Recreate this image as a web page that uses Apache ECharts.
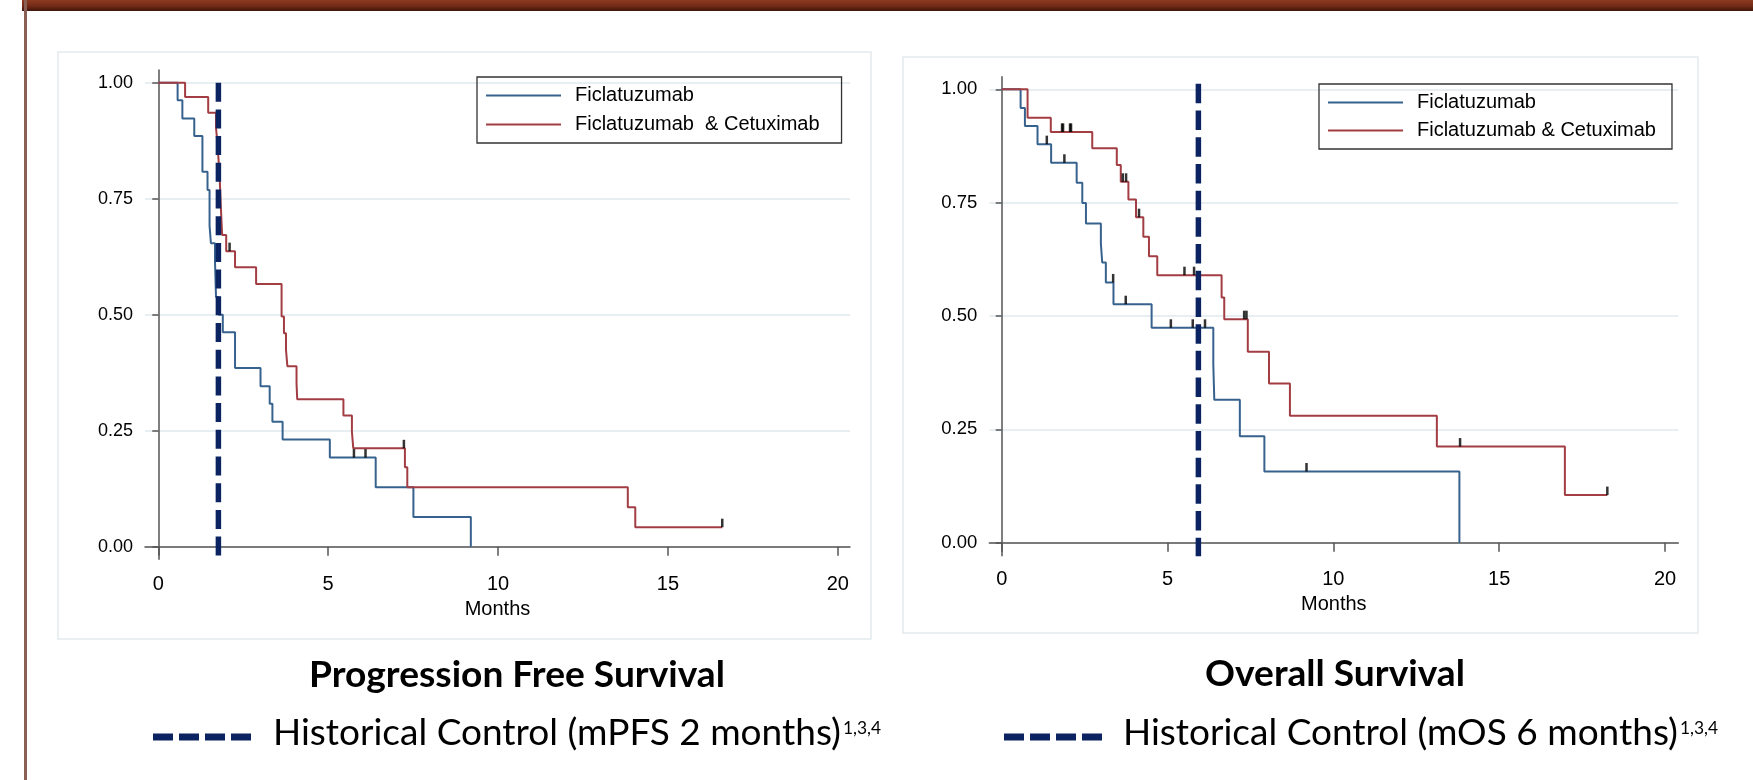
<!DOCTYPE html>
<html><head><meta charset="utf-8">
<script src="https://cdn.jsdelivr.net/npm/echarts@6/dist/echarts.min.js"></script>
<style>html,body{margin:0;padding:0;background:#fff;}#c{width:1753px;height:780px;}</style>
</head><body><div id="c"></div>
<script>
// ---------- Progression Free Survival ----------
const pfsFicT = [0, 0.57, 0.71, 1.06, 1.30, 1.45, 1.51, 1.55, 1.67, 1.70, 1.78, 1.90, 2.26, 3.01, 3.28, 3.36, 3.66, 5.05, 6.40, 7.51, 9.20];
const pfsFicS = [1, 0.962, 0.923, 0.885, 0.808, 0.769, 0.692, 0.654, 0.615, 0.538, 0.500, 0.462, 0.385, 0.346, 0.308, 0.269, 0.231, 0.192, 0.128, 0.064, 0];
const pfsComboT = [0, 0.79, 1.47, 1.70, 1.74, 1.77, 1.80, 1.82, 1.84, 1.88, 2.00, 2.26, 2.88, 3.63, 3.70, 3.76, 3.80, 4.07, 4.09, 5.45, 5.70, 5.74, 7.26, 7.33, 13.82, 14.04, 16.60];
const pfsComboS = [1, 0.969, 0.935, 0.903, 0.871, 0.839, 0.806, 0.774, 0.736, 0.672, 0.637, 0.602, 0.566, 0.496, 0.460, 0.424, 0.389, 0.352, 0.318, 0.283, 0.248, 0.212, 0.171, 0.128, 0.085, 0.042, 0.042];
const pfsFicCensT = [5.76, 6.10];
const pfsFicCensS = [0.192, 0.192];
const pfsComboCensT = [2.10, 7.23, 16.60];
const pfsComboCensS = [0.637, 0.212, 0.042];
const pfsHistControl = 1.77;

// ---------- Overall Survival ----------
const osFicT = [0, 0.57, 0.70, 1.08, 1.49, 2.26, 2.43, 2.54, 2.99, 3.03, 3.14, 3.37, 4.52, 6.38, 6.41, 7.18, 7.92, 13.80];
const osFicS = [1, 0.959, 0.919, 0.879, 0.838, 0.794, 0.749, 0.704, 0.660, 0.618, 0.574, 0.526, 0.474, 0.393, 0.315, 0.235, 0.157, 0];
const osComboT = [0, 0.78, 1.48, 2.73, 3.47, 3.59, 3.82, 4.05, 4.27, 4.44, 4.69, 6.63, 6.71, 7.42, 8.06, 8.69, 13.12, 16.98, 18.26];
const osComboS = [1, 0.937, 0.906, 0.870, 0.833, 0.796, 0.757, 0.718, 0.675, 0.632, 0.590, 0.541, 0.493, 0.421, 0.351, 0.280, 0.212, 0.105, 0.105];
const osFicCensT = [1.36, 1.89, 3.36, 3.74, 5.10, 5.76, 6.13, 9.19];
const osFicCensS = [0.879, 0.838, 0.574, 0.526, 0.474, 0.474, 0.474, 0.157];
const osComboCensT = [1.82, 1.85, 2.06, 2.09, 3.65, 3.75, 4.14, 5.51, 5.80, 7.31, 7.38, 13.82, 18.26];
const osComboCensS = [0.906, 0.906, 0.906, 0.906, 0.796, 0.796, 0.718, 0.590, 0.590, 0.493, 0.493, 0.212, 0.105];
const osHistControl = 5.93;

// ---------- Labels ----------
const xTicks = [0, 5, 10, 15, 20];
const yTicks = [0, 0.25, 0.5, 0.75, 1];
const nameFic = 'Ficlatuzumab';
const namePfsCombo = 'Ficlatuzumab  & Cetuximab';
const nameOsCombo = 'Ficlatuzumab & Cetuximab';
const xName = 'Months';
const titlePfs = 'Progression Free Survival';
const titleOs = 'Overall Survival';
const histPfsText = 'Historical Control (mPFS 2 months)';
const histOsText = 'Historical Control (mOS 6 months)';
const refNotes = '1,3,4';

// ---------- Styling ----------
const BLUE = '#37628d', RED = '#a23d44', NAVY = '#0b2461';
const AX = '"Liberation Sans", Arial, sans-serif';
const SL = 'Lato, "Open Sans", sans-serif';
const meas = document.createElement('canvas').getContext('2d');
function textW(t, f) { meas.font = f; return meas.measureText(t).width; }
const regSize = 40 * 568 / textW(histPfsText, '40px ' + SL);
const boldSize = 40 * 416 / textW(titlePfs, 'bold 40px ' + SL);
const supSize = regSize * 0.47;
const wPfsHist = textW(histPfsText, regSize + 'px ' + SL);
const wOsHist = textW(histOsText, regSize + 'px ' + SL);

function pts(t, s) { return t.map((v, i) => [v, s[i]]); }

function xAx(grid, min, max, margin) {
  return {
    type: 'value', gridIndex: grid, min: min, max: max,
    name: xName, nameLocation: 'middle', nameGap: 32,
    nameTextStyle: { fontFamily: AX, fontSize: 20, color: '#000' },
    axisLine: { show: true, lineStyle: { color: '#555', width: 1.5 } },
    axisTick: { show: true, length: 9, customValues: xTicks, lineStyle: { color: '#555', width: 1.5 } },
    axisLabel: { customValues: xTicks, margin: margin, fontFamily: AX, fontSize: 20, color: '#000' },
    splitLine: { show: false }
  };
}
function yAx(grid, min, max, fs) {
  return {
    type: 'value', gridIndex: grid, min: min, max: max,
    axisLine: { show: true, lineStyle: { color: '#555', width: 1.5 } },
    axisTick: { show: true, length: 6, customValues: yTicks, lineStyle: { color: '#555', width: 1.5 } },
    axisLabel: { customValues: yTicks, margin: 12, fontFamily: AX, fontSize: fs, color: '#000',
      formatter: v => Number(v).toFixed(2) },
    splitLine: { show: true, lineStyle: { color: '#e7eff2', width: 2 } }
  };
}
function kmLine(name, g, t, s, color) {
  return { type: 'line', name: name, xAxisIndex: g, yAxisIndex: g, data: pts(t, s), step: 'end',
    symbol: 'none', silent: true, lineStyle: { color: color, width: 2 }, itemStyle: { color: color }, z: 2 };
}
function cens(g, t, s) {
  return { type: 'scatter', name: 'cens' + g + t.length, xAxisIndex: g, yAxisIndex: g, data: pts(t, s),
    symbol: 'rect', symbolSize: [2.5, 8.5], symbolOffset: [0, '-50%'], silent: true,
    itemStyle: { color: '#000' }, z: 3 };
}
function hist(g, x, top, bottom, dash) {
  return { type: 'line', name: 'hist' + g, xAxisIndex: g, yAxisIndex: g, data: [[x, top], [x, bottom]],
    symbol: 'none', silent: true, lineStyle: { color: NAVY, width: 5.5, type: dash, cap: 'butt' }, z: 5 };
}
function legendBox(names, left, top, gap, padR) {
  return { data: names, left: left, top: top, orient: 'vertical', icon: 'rect', itemWidth: 75, itemHeight: 2,
    itemGap: gap, padding: [8.5, padR, 8.5, 9], borderColor: '#333', borderWidth: 1.3, selectedMode: false,
    textStyle: { fontFamily: AX, fontSize: 20, color: '#000', padding: [0, 0, 0, 9] } };
}

const chart = echarts.init(document.getElementById('c'), null, { renderer: 'canvas' });
chart.setOption({
  animation: false,
  backgroundColor: '#ffffff',
  graphic: [
    { type: 'rect', z: -20, shape: { x: 22, y: 0, width: 1731, height: 11 },
      style: { fill: new echarts.graphic.LinearGradient(0, 0, 0, 1, [
        { offset: 0, color: '#8e3b22' }, { offset: 0.55, color: '#732a17' }, { offset: 1, color: '#3f160c' }]) } },
    { type: 'rect', z: -20, shape: { x: 24, y: 0, width: 3, height: 780 }, style: { fill: '#8a5f54' } },
    { type: 'rect', z: -20, shape: { x: 58, y: 52, width: 813, height: 587 }, style: { fill: '#fff', stroke: '#e4ebee', lineWidth: 1.5 } },
    { type: 'rect', z: -20, shape: { x: 903, y: 57, width: 795, height: 576 }, style: { fill: '#fff', stroke: '#e4ebee', lineWidth: 1.5 } },
    { type: 'text', z: 50, x: 517, y: 675, style: { text: titlePfs, font: 'bold ' + boldSize + 'px ' + SL, fill: '#000', align: 'center', verticalAlign: 'middle' } },
    { type: 'text', z: 50, x: 1335, y: 674, style: { text: titleOs, font: 'bold ' + boldSize + 'px ' + SL, fill: '#000', align: 'center', verticalAlign: 'middle' } },
    { type: 'line', z: 50, shape: { x1: 153, y1: 737, x2: 251, y2: 737 }, style: { stroke: NAVY, lineWidth: 7, lineDash: [20, 6], lineCap: 'butt' } },
    { type: 'line', z: 50, shape: { x1: 1004, y1: 737, x2: 1102, y2: 737 }, style: { stroke: NAVY, lineWidth: 7, lineDash: [20, 6], lineCap: 'butt' } },
    { type: 'text', z: 50, x: 273, y: 733.5, style: { text: histPfsText, font: regSize + 'px ' + SL, fill: '#000', align: 'left', verticalAlign: 'middle' } },
    { type: 'text', z: 50, x: 273 + wPfsHist + 2, y: 728, style: { text: refNotes, font: supSize + 'px ' + SL, fill: '#000', align: 'left', verticalAlign: 'middle' } },
    { type: 'text', z: 50, x: 1123, y: 733.5, style: { text: histOsText, font: regSize + 'px ' + SL, fill: '#000', align: 'left', verticalAlign: 'middle' } },
    { type: 'text', z: 50, x: 1123 + wOsHist + 2, y: 728, style: { text: refNotes, font: supSize + 'px ' + SL, fill: '#000', align: 'left', verticalAlign: 'middle' } }
  ],
  legend: [
    legendBox([nameFic, namePfsCombo], 477, 77, 9, 22),
    legendBox([nameFic, nameOsCombo], 1319, 84, 8, 16)
  ],
  grid: [
    { left: 145, top: 70, width: 705, height: 489.3 },
    { left: 989.3, top: 76.7, width: 689, height: 479 }
  ],
  xAxis: [xAx(0, -0.39, 20.36, 15), xAx(1, -0.374, 20.40, 14)],
  yAxis: [yAx(0, -0.0272, 1.0274, 18), yAx(1, -0.0287, 1.0278, 18.5)],
  series: [
    kmLine(nameFic, 0, pfsFicT, pfsFicS, BLUE),
    kmLine(namePfsCombo, 0, pfsComboT, pfsComboS, RED),
    cens(0, pfsFicCensT, pfsFicCensS),
    cens(0, pfsComboCensT, pfsComboCensS),
    hist(0, pfsHistControl, 1.0, -0.02, [19, 7.7]),
    kmLine(nameFic, 1, osFicT, osFicS, BLUE),
    kmLine(nameOsCombo, 1, osComboT, osComboS, RED),
    cens(1, osFicCensT, osFicCensS),
    cens(1, osComboCensT, osComboCensS),
    hist(1, osHistControl, 1.012, -0.03, [19.5, 7.2])
  ]
});
</script>
</body></html>
